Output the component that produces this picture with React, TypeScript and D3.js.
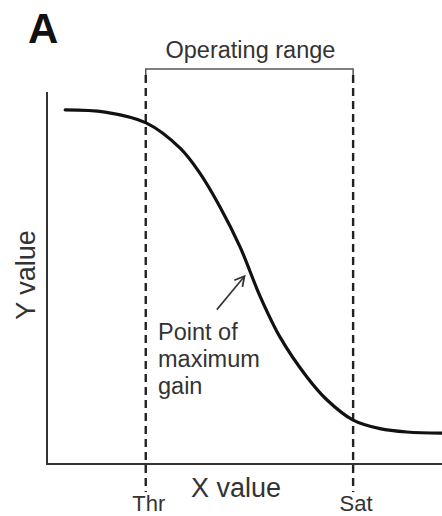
import React from "react";
import * as d3 from "d3";

const curveX = [4.6, 14.7, 25.1, 33.7, 38.7, 43.8, 48.9, 53.9, 59, 65.8, 70.9, 77.5, 84.3, 91.1, 100];
const curveY = [95.2, 94.6, 91.7, 84.9, 78.2, 69.1, 58.3, 45.2, 34.1, 23.4, 17.2, 11.8, 9.5, 8.6, 8.3];
const thresholdX = 25;
const saturationX = 77.5;
const markerLabels = ["Thr", "Sat"];
const annotationLines = ["Point of", "maximum", "gain"];
const arrowFrom = [43, 41.5];
const arrowTo = [50, 50.5];

const W = 442;
const H = 516;
const FONT = "'Liberation Sans', Arial, Helvetica, sans-serif";

export default function App() {
  const x = d3.scaleLinear().domain([0, 100]).range([47, 442]);
  const y = d3.scaleLinear().domain([0, 100]).range([464, 92]);
  const pts = curveX.map((v, i) => [v, curveY[i]] as [number, number]);
  const line = d3
    .line<[number, number]>()
    .x((d) => x(d[0]))
    .y((d) => y(d[1]))
    .curve(d3.curveCatmullRom.alpha(0.5));

  const markers = [thresholdX, saturationX];
  const bracketY = 69;

  const ax1 = x(arrowFrom[0]);
  const ay1 = y(arrowFrom[1]);
  const ax2 = x(arrowTo[0]);
  const ay2 = y(arrowTo[1]);
  const ang = Math.atan2(ay2 - ay1, ax2 - ax1);
  const headLen = 11;
  const headAng = 0.5;
  const h1 = [ax2 - headLen * Math.cos(ang - headAng), ay2 - headLen * Math.sin(ang - headAng)];
  const h2 = [ax2 - headLen * Math.cos(ang + headAng), ay2 - headLen * Math.sin(ang + headAng)];

  return (
    <svg
      width={W}
      height={H}
      style={{ position: "absolute", left: 0, top: 0, background: "#fff" }}
      fontFamily={FONT}
    >
      <rect width={W} height={H} fill="#fff" />
      <text x={28} y={43} fontSize={42} fontWeight="bold" fill="#111">
        A
      </text>

      <path
        d={`M${x(thresholdX)},${bracketY + 12} V${bracketY} H${x(saturationX)} V${bracketY + 12}`}
        fill="none"
        stroke="#555"
        strokeWidth={1.5}
      />
      <text x={(x(thresholdX) + x(saturationX)) / 2 + 1} y={58} fontSize={23.5} fill="#333" textAnchor="middle">
        Operating range
      </text>

      {markers.map((m, i) => (
        <g key={i}>
          <line
            x1={x(m)}
            x2={x(m)}
            y1={bracketY + 6}
            y2={492}
            stroke="#222"
            strokeWidth={2.4}
            strokeDasharray="8,5"
          />
          <text x={x(m) + 3} y={511} fontSize={22} fill="#333" textAnchor="middle">
            {markerLabels[i]}
          </text>
        </g>
      ))}

      <line x1={47} x2={47} y1={92} y2={465} stroke="#333" strokeWidth={2} />
      <line x1={46} x2={442} y1={464} y2={464} stroke="#333" strokeWidth={2} />

      <text x={236} y={497} fontSize={27} fill="#333" textAnchor="middle">
        X value
      </text>
      <text transform={`translate(35,275) rotate(-90)`} fontSize={27} fill="#333" textAnchor="middle">
        Y value
      </text>

      <path d={line(pts) || ""} fill="none" stroke="#111" strokeWidth={3.2} strokeLinecap="round" />

      <line x1={ax1} y1={ay1} x2={ax2} y2={ay2} stroke="#333" strokeWidth={1.6} />
      <polyline
        points={`${h1[0]},${h1[1]} ${ax2},${ay2} ${h2[0]},${h2[1]}`}
        fill="none"
        stroke="#333"
        strokeWidth={1.8}
      />

      {annotationLines.map((t, i) => (
        <text key={i} x={158} y={340 + i * 27} fontSize={23.5} fill="#333">
          {t}
        </text>
      ))}
    </svg>
  );
}
